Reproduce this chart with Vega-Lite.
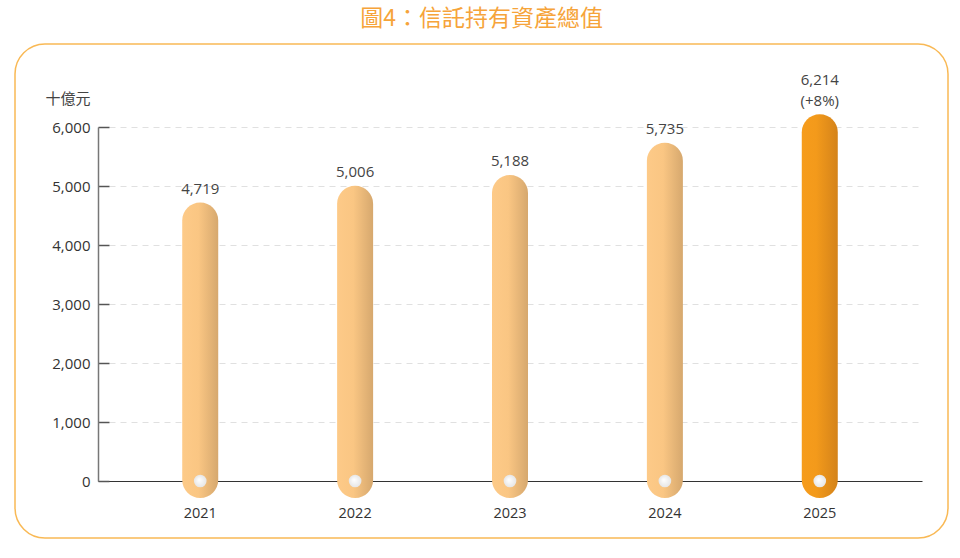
{
  "$schema": "https://vega.github.io/schema/vega-lite/v6.json",
  "autosize": {"type": "none"},
  "width": 933,
  "height": 494,
  "padding": {"left": 15, "top": 44, "right": 12, "bottom": 20},
  "background": "white",
  "title": {
    "text": "圖4：信託持有資產總值",
    "font": "Noto Sans CJK TC",
    "fontSize": 23,
    "fontWeight": "normal",
    "color": "#f6a43a",
    "anchor": "middle",
    "offset": 13
  },
  "config": {
    "view": {"stroke": "#f9b955", "strokeWidth": 1.5, "cornerRadius": 30},
    "font": "Open Sans"
  },
  "data": {
    "values": [
      {"year": "2021", "value": 4719, "label": "4,719", "pct": null, "group": "past"},
      {"year": "2022", "value": 5006, "label": "5,006", "pct": null, "group": "past"},
      {"year": "2023", "value": 5188, "label": "5,188", "pct": null, "group": "past"},
      {"year": "2024", "value": 5735, "label": "5,735", "pct": null, "group": "past"},
      {"year": "2025", "value": 6214, "label": "6,214", "pct": "(+8%)", "group": "current"}
    ]
  },
  "encoding": {
    "x": {
      "field": "year",
      "type": "nominal",
      "scale": {"range": [83, 907], "paddingInner": 0, "paddingOuter": 0.16},
      "axis": {
        "title": null,
        "orient": "bottom",
        "offset": -57,
        "ticks": false,
        "labelAngle": 0,
        "labelPadding": 25,
        "labelFontSize": 14.5,
        "labelColor": "#333333",
        "domainColor": "#333333",
        "domainWidth": 1,
        "zindex": 0
      }
    }
  },
  "layer": [
    {
      "transform": [{"filter": "datum.group === 'past'"}],
      "mark": {
        "type": "bar",
        "size": 36,
        "cornerRadius": 18,
        "color": {
          "gradient": "linear",
          "x1": 0, "y1": 0, "x2": 1, "y2": 0,
          "stops": [
            {"offset": 0, "color": "#fdca88"},
            {"offset": 0.45, "color": "#fac683"},
            {"offset": 1, "color": "#d6a86e"}
          ]
        }
      },
      "encoding": {
        "y": {
          "field": "value",
          "type": "quantitative",
          "scale": {"domain": [0, 6000], "range": [437, 83], "nice": false, "zero": false},
          "axis": {
            "title": "十億元",
            "titleFont": "Noto Sans CJK TC",
            "titleFontSize": 15,
            "titleFontWeight": "normal",
            "titleColor": "#444444",
            "titleAngle": 0,
            "titleAlign": "right",
            "titleBaseline": "alphabetic",
            "titleX": -8,
            "titleY": 59,
            "offset": -83,
            "values": [0, 1000, 2000, 3000, 4000, 5000, 6000],
            "format": ",d",
            "tickSize": -11,
            "tickColor": "#555555",
            "tickWidth": 1.5,
            "labelPadding": 19,
            "labelFontSize": 15,
            "labelColor": "#333333",
            "domainColor": "#777777",
            "domainWidth": 1.5,
            "grid": true,
            "gridColor": "#e0e0e0",
            "gridDash": [6, 5],
            "gridWidth": 1,
            "zindex": 0
          }
        },
        "y2": {"datum": -290}
      }
    },
    {
      "transform": [{"filter": "datum.group === 'current'"}],
      "mark": {
        "type": "bar",
        "size": 36,
        "cornerRadius": 18,
        "color": {
          "gradient": "linear",
          "x1": 0, "y1": 0, "x2": 1, "y2": 0,
          "stops": [
            {"offset": 0, "color": "#f69c1c"},
            {"offset": 0.4, "color": "#f39a1b"},
            {"offset": 1, "color": "#d4831a"}
          ]
        }
      },
      "encoding": {
        "y": {"field": "value", "type": "quantitative"},
        "y2": {"datum": -290}
      }
    },
    {
      "mark": {
        "type": "point",
        "filled": true,
        "size": 160,
        "opacity": 1,
        "fill": {
          "gradient": "radial",
          "x1": 0.4, "y1": 0.4, "r1": 0, "x2": 0.5, "y2": 0.5, "r2": 0.5,
          "stops": [
            {"offset": 0, "color": "#ffffff"},
            {"offset": 1, "color": "#e6e6e6"}
          ]
        }
      },
      "encoding": {
        "y": {"datum": 0, "type": "quantitative"}
      }
    },
    {
      "transform": [{"filter": "datum.group === 'past'"}],
      "mark": {
        "type": "text",
        "baseline": "alphabetic",
        "dy": -9,
        "fontSize": 15,
        "color": "#444444"
      },
      "encoding": {
        "y": {"field": "value", "type": "quantitative"},
        "text": {"field": "label"}
      }
    },
    {
      "transform": [{"filter": "datum.group === 'current'"}],
      "mark": {
        "type": "text",
        "baseline": "alphabetic",
        "dy": -29,
        "fontSize": 15,
        "color": "#444444"
      },
      "encoding": {
        "y": {"field": "value", "type": "quantitative"},
        "text": {"field": "label"}
      }
    },
    {
      "transform": [{"filter": "datum.group === 'current'"}],
      "mark": {
        "type": "text",
        "baseline": "alphabetic",
        "dy": -8,
        "fontSize": 15,
        "color": "#444444"
      },
      "encoding": {
        "y": {"field": "value", "type": "quantitative"},
        "text": {"field": "pct"}
      }
    }
  ]
}
